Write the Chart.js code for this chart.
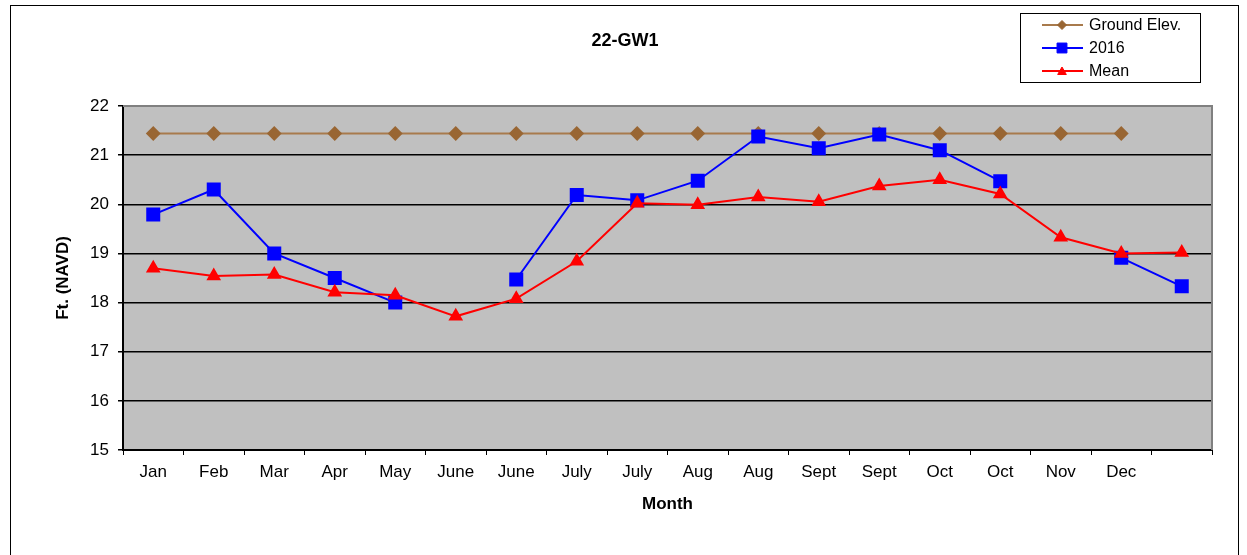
<!DOCTYPE html>
<html>
<head>
<meta charset="utf-8">
<title>22-GW1</title>
<script src="https://cdn.jsdelivr.net/npm/chart.js@4.4.1/dist/chart.umd.min.js"></script>
<style>
  html, body { margin: 0; padding: 0; background: #fff; }
  #wrap { width: 1247px; height: 555px; }
</style>
</head>
<body>
<div id="wrap"><canvas id="grafica"></canvas></div>
<script>
const meses = ['Jan', 'Feb', 'Mar', 'Apr', 'May', 'June', 'June', 'July', 'July', 'Aug', 'Aug', 'Sept', 'Sept', 'Oct', 'Oct', 'Nov', 'Dec', ''];
const terreno = [21.44, 21.44, 21.44, 21.44, 21.44, 21.44, 21.44, 21.44, 21.44, 21.44, 21.44, 21.44, 21.44, 21.44, 21.44, 21.44, 21.44, null];
const nivel2016 = [19.79, 20.30, 19.00, 18.50, 18.00, null, 18.47, 20.19, 20.08, 20.48, 21.38, 21.14, 21.42, 21.10, 20.47, null, 18.91, 18.33];
const promedio = [18.70, 18.54, 18.57, 18.21, 18.15, 17.72, 18.08, 18.84, 20.02, 19.99, 20.15, 20.05, 20.37, 20.50, 20.21, 19.33, 19.00, 19.02];
const etiquetas = ['Ground Elev.', '2016', 'Mean'];

const fuente = 'Arial, "Liberation Sans", sans-serif';
Chart.defaults.font.family = fuente;
Chart.defaults.color = '#000';

// fondo gris, marco exterior, titulo y leyenda
const extras = {
  id: 'extras',
  beforeDraw(chart) {
    const { ctx, chartArea: a } = chart;
    ctx.save();
    ctx.fillStyle = '#c0c0c0';
    ctx.fillRect(a.left, a.top, a.right - a.left, a.bottom - a.top);
    ctx.strokeStyle = '#000';
    ctx.lineWidth = 1;
    ctx.strokeRect(10.5, 5.5, 1228, 600);
    ctx.restore();
  },
  afterDraw(chart) {
    const { ctx, chartArea: a } = chart;
    ctx.save();
    // borde gris arriba y derecha
    ctx.strokeStyle = '#808080';
    ctx.lineWidth = 2;
    ctx.beginPath();
    ctx.moveTo(a.left, a.top);
    ctx.lineTo(a.right, a.top);
    ctx.lineTo(a.right, a.bottom);
    ctx.stroke();

    ctx.fillStyle = '#000';
    ctx.font = 'bold 18px ' + fuente;
    ctx.textAlign = 'center';
    ctx.textBaseline = 'middle';
    ctx.fillText('22-GW1', 625, 41);

    // leyenda
    ctx.lineWidth = 1;
    ctx.strokeStyle = '#000';
    ctx.strokeRect(1020.5, 13.5, 180, 69);
    ctx.font = '16px ' + fuente;
    ctx.textAlign = 'left';
    etiquetas.forEach((txt, i) => {
      const ds = chart.data.datasets[i];
      const y = 25 + i * 23;
      ctx.strokeStyle = ds.borderColor;
      ctx.lineWidth = 2;
      ctx.beginPath();
      ctx.moveTo(1042, y);
      ctx.lineTo(1083, y);
      ctx.stroke();
      ctx.fillStyle = ds.pointBackgroundColor;
      ctx.strokeStyle = ds.pointBorderColor;
      ctx.lineWidth = 1;
      Chart.helpers.drawPoint(ctx, {
        pointStyle: ds.pointStyle, rotation: 0, borderWidth: 1, radius: ds.pointRadius - 1.5
      }, 1062, y + (ds.pointStyle === 'triangle' ? 1 : 0));
      ctx.fillStyle = '#000';
      ctx.fillText(txt, 1089, y + 1);
    });
    ctx.restore();
  }
};

new Chart(document.getElementById('grafica'), {
  type: 'line',
  data: {
    labels: meses,
    datasets: [
      {
        label: etiquetas[0], data: terreno, order: 2,
        borderColor: '#a87a4c', borderWidth: 2,
        pointStyle: 'rectRot', pointRadius: 6,
        pointBackgroundColor: '#996633', pointBorderColor: '#996633',
        spanGaps: false
      },
      {
        label: etiquetas[1], data: nivel2016, order: 1,
        borderColor: '#0000ff', borderWidth: 2,
        pointStyle: 'rect', pointRadius: 8.5,
        pointBackgroundColor: '#0000ff', pointBorderColor: '#0000ff',
        spanGaps: false
      },
      {
        label: etiquetas[2], data: promedio, order: 0,
        borderColor: '#ff0000', borderWidth: 2,
        pointStyle: 'triangle', pointRadius: 6.5,
        pointBackgroundColor: '#ff0000', pointBorderColor: '#ff0000',
        spanGaps: false
      }
    ]
  },
  options: {
    responsive: true,
    maintainAspectRatio: false,
    animation: false,
    layout: { padding: { top: 106, right: 35, left: 0, bottom: 0 } },
    plugins: {
      legend: { display: false },
      tooltip: { enabled: false },
      title: { display: false }
    },
    scales: {
      x: {
        offset: true,
        afterFit: s => { s.height = 105; },
        grid: { offset: true, drawOnChartArea: false, drawTicks: true, tickLength: 5, color: '#000', tickColor: '#000' },
        border: { color: '#000', width: 2 },
        ticks: { font: { size: 17 }, padding: 7, maxRotation: 0, autoSkip: false, color: '#000' },
        title: { display: true, text: 'Month', font: { size: 17, weight: 'bold' }, padding: { top: 0, bottom: 40 }, color: '#000' }
      },
      y: {
        min: 15, max: 22,
        afterFit: s => { s.width = 123; },
        grid: {
          color: c => (c.tick && c.tick.value === 22) ? 'rgba(0,0,0,0)' : '#000',
          lineWidth: 1.5, tickLength: 5, tickColor: '#000'
        },
        border: { color: '#000', width: 2 },
        ticks: { stepSize: 1, font: { size: 17 }, padding: 9, color: '#000' },
        title: { display: true, text: 'Ft. (NAVD)', font: { size: 17, weight: 'bold' }, padding: { top: 53, bottom: 0 }, color: '#000' }
      }
    }
  },
  plugins: [extras]
});
</script>
</body>
</html>
